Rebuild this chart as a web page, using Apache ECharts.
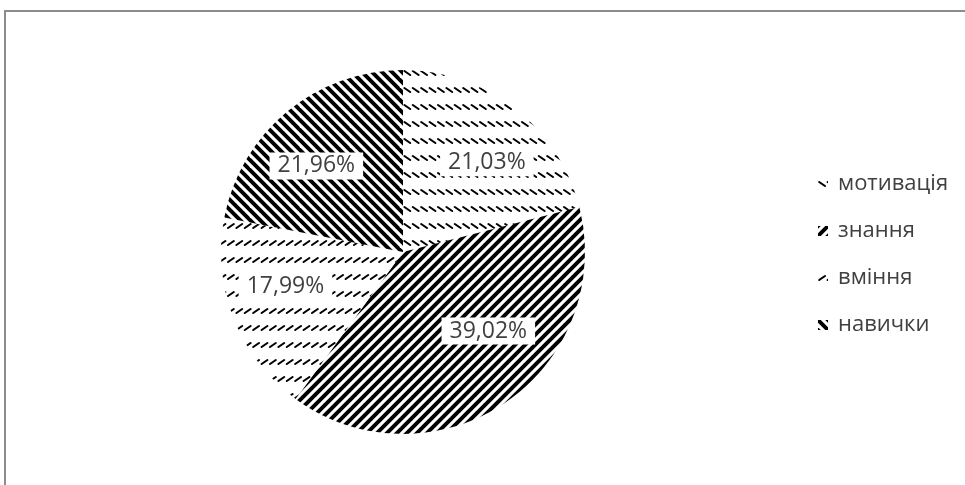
<!DOCTYPE html>
<html>
<head>
<meta charset="utf-8">
<script src="https://cdn.jsdelivr.net/npm/echarts@6/dist/echarts.min.js"></script>
<style>
  html, body { margin: 0; padding: 0; background: #fff; }
  #chart { width: 965px; height: 485px; }
</style>
</head>
<body>
<div id="chart"></div>
<script>
// ---- data ----
const categories = ['мотивація', 'знання', 'вміння', 'навички'];
const values = [21.03, 39.02, 17.99, 21.96];

// ---- styling helpers ----
const labelNudge = [[9, 7], [17, -22], [-4, -10], [-9, 8]];

function stripePattern(up) {
  const size = 50, period = 10;
  const c = document.createElement('canvas');
  c.width = size; c.height = size;
  const g = c.getContext('2d');
  g.fillStyle = '#fff'; g.fillRect(0, 0, size, size);
  g.strokeStyle = '#000'; g.lineWidth = 3.9; g.lineCap = 'butt';
  const ext = 12;
  for (let k = -8; k <= 14; k++) {
    const x = k * period;
    g.beginPath();
    if (up) { g.moveTo(x + ext, -ext); g.lineTo(x - size - ext, size + ext); }
    else { g.moveTo(x - ext, -ext); g.lineTo(x + size + ext, size + ext); }
    g.stroke();
  }
  return { image: c, repeat: 'repeat' };
}
function dashPattern(up) {
  const w = 42, h = 34, px = 8.4, py = 17;
  const c = document.createElement('canvas');
  c.width = w; c.height = h;
  const g = c.getContext('2d');
  g.fillStyle = '#fff'; g.fillRect(0, 0, w, h);
  g.strokeStyle = '#000'; g.lineWidth = 2.1; g.lineCap = 'round';
  for (let r = 0; r < 2; r++) {
    for (let k = 0; k < 5; k++) {
      const x0 = k * px + 1.2, y0 = r * py + 3;
      g.beginPath();
      if (up) { g.moveTo(x0, y0 + 4); g.lineTo(x0 + 5.8, y0); }
      else { g.moveTo(x0, y0); g.lineTo(x0 + 5.8, y0 + 4); }
      g.stroke();
    }
  }
  return { image: c, repeat: 'repeat' };
}
const fills = [dashPattern(false), stripePattern(true), dashPattern(true), stripePattern(false)];

const fmt = v => v.toFixed(2).replace('.', ',') + '%';
const FONT = "'Open Sans', 'Noto Sans', sans-serif";

const chart = echarts.init(document.getElementById('chart'), null, { renderer: 'canvas' });
chart.setOption({
  animation: false,
  backgroundColor: '#fff',
  graphic: [{
    type: 'rect', silent: true, z: 100,
    shape: { x: 5, y: 11, width: 2000, height: 1000 },
    style: { fill: 'none', stroke: '#8c8c8c', lineWidth: 2 }
  }],
  legend: {
    orient: 'vertical',
    left: 813, top: 167,
    itemWidth: 10, itemHeight: 10, itemGap: 23,
    icon: 'rect',
    selectedMode: false,
    data: categories,
    textStyle: { fontFamily: FONT, fontSize: 22, color: '#404040', lineHeight: 24, padding: [0, 0, 0, 5] }
  },
  series: [
    {
      type: 'pie',
      center: [403, 252], radius: [0, 182],
      startAngle: 90, clockwise: true,
      silent: true,
      label: { show: false }, labelLine: { show: false },
      itemStyle: { borderWidth: 0 },
      emphasis: { disabled: true },
      data: categories.map((n, i) => ({ name: n, value: values[i], itemStyle: { color: fills[i] } }))
    },
    {
      type: 'pie',
      center: [403, 252], radius: [0, 238],
      startAngle: 90, clockwise: true,
      silent: true,
      itemStyle: { color: 'rgba(0,0,0,0)', borderWidth: 0 },
      emphasis: { disabled: true },
      labelLine: { show: false },
      label: {
        show: true, position: 'inside',
        formatter: p => fmt(p.value),
        fontFamily: FONT, fontSize: 23, color: '#404040',
        backgroundColor: '#fff', padding: [2, 8], lineHeight: 23
      },
      labelLayout: p => ({ dx: labelNudge[p.dataIndex][0], dy: labelNudge[p.dataIndex][1] }),
      data: categories.map((n, i) => ({ name: n, value: values[i] }))
    }
  ]
});
</script>
</body>
</html>
